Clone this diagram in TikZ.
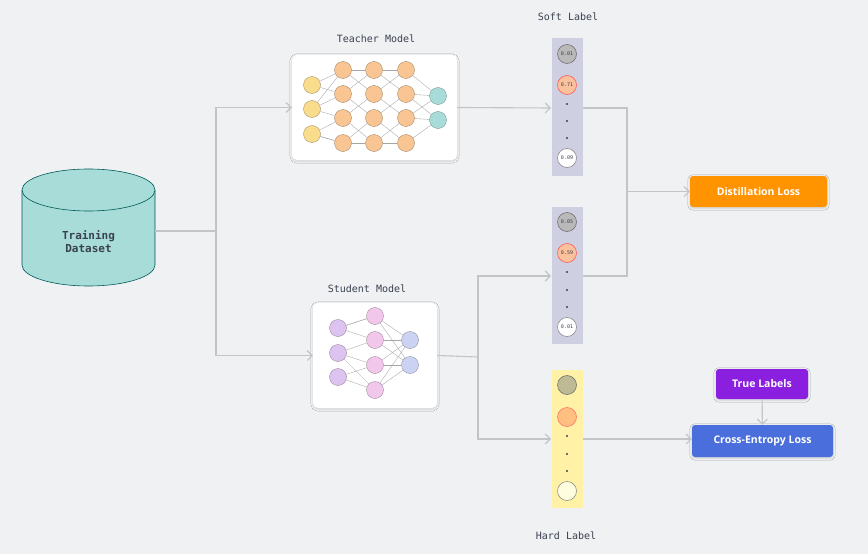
\documentclass[tikz,border=0pt]{standalone}
\usepackage{fontspec}
\setmainfont{Open Sans}
\newfontfamily\mono{DejaVu Sans Mono}
\usetikzlibrary{shapes.geometric,arrows.meta,shadows.blur}
\definecolor{bg}{HTML}{F0F1F3}
\definecolor{ln}{HTML}{C2C4C8}
\definecolor{txt}{HTML}{3A4150}
\tikzset{
 conn/.style={draw=ln,line width=1.1pt},
 arr/.style={conn,-{Straight Barb[length=5pt,width=10pt]}},
 card/.style={fill=white,rounded corners=5pt,blur shadow={shadow blur steps=6,shadow xshift=0pt,shadow yshift=-1pt,shadow opacity=15}},
 nn/.style={circle,minimum size=17pt,inner sep=0pt,draw=#1!60!black,line width=0.3pt,fill=#1},
 wire/.style={draw=gray!70,line width=0.35pt},
 val/.style={circle,minimum size=19pt,inner sep=0pt,line width=0.5pt,font=\mono\fontsize{5}{5}\selectfont,text=txt},
 dot/.style={circle,fill=txt,inner sep=0pt,minimum size=2.2pt},
 ttl/.style={font=\mono\fontsize{10}{12}\selectfont,text=txt},
 loss/.style={rounded corners=3pt,text=white,font=\bfseries\fontsize{10.5}{12}\selectfont,inner sep=0pt,blur shadow={shadow blur steps=5,shadow xshift=0pt,shadow yshift=-1pt,shadow opacity=15}}
}
\definecolor{cy}{HTML}{F9DC8C}\definecolor{co}{HTML}{F9C592}\definecolor{ct}{HTML}{A8DCD8}
\definecolor{cp}{HTML}{DCC3F0}\definecolor{cpk}{HTML}{F1C8EC}\definecolor{cb}{HTML}{CCD3F2}
\begin{document}
\begin{tikzpicture}[x=1pt,y=-1pt]
\fill[bg] (0,0) rectangle (868,554);
\useasboundingbox (0,0) rectangle (868,554);
% dataset cylinder
\fill[ct] (22,190) -- (22,265) arc[start angle=180,end angle=360,x radius=66.5,y radius=-21] -- (155,190) -- cycle;
\draw[teal!70!black,line width=0.6pt] (22,190) -- (22,265) arc[start angle=180,end angle=360,x radius=66.5,y radius=-21] -- (155,190);
\draw[teal!70!black,line width=0.6pt,fill=ct] (88.5,190) ellipse[x radius=66.5,y radius=21];
\node[ttl,align=center,font=\mono\bfseries\fontsize{11}{13}\selectfont] (ds) at (88.5,242) {Training\\Dataset};
\coordinate (dsr) at (155,231);
\coordinate (j1) at (216,231);
% cards
\node[card,minimum width=165pt,minimum height=105pt] (tb) at (374.5,107.5) {};
\node[ttl] (tl) at (376,39) {Teacher Model};
\node[card,minimum width=124pt,minimum height=105pt] (sb) at (375,355.5) {};
\node[ttl] (sl) at (367,289) {Student Model};
% teacher net
\foreach \i/\y in {1/85,2/109,3/134}{\node[nn=cy] (ti\i) at (312,\y) {};}
\foreach \c/\x in {1/343,2/374,3/406}{\foreach \i/\y in {1/70,2/94,3/118,4/143}{\node[nn=co] (th\c\i) at (\x,\y) {};}}
\foreach \i/\y in {1/96,2/120}{\node[nn=ct] (to\i) at (438,\y) {};}
\foreach \a/\b in {1/1,1/2,2/2,2/3,3/3,3/4,2/1,3/4}{\draw[wire] (ti\a) -- (th1\b);}
\foreach \a/\b in {1/2,2/1,2/3,3/2,3/4,4/3,1/1,4/4}{\draw[wire] (th1\a) -- (th2\b); \draw[wire] (th2\a) -- (th3\b);}
\foreach \a/\b in {1/1,2/1,3/2,4/2,2/2,3/1}{\draw[wire] (th3\a) -- (to\b);}
% student net
\foreach \i/\y in {1/328,2/353,3/377}{\node[nn=cp] (si\i) at (338,\y) {};}
\foreach \i/\y in {1/316,2/340,3/365,4/390}{\node[nn=cpk] (sh\i) at (375,\y) {};}
\foreach \i/\y in {1/340,2/365}{\node[nn=cb] (so\i) at (410,\y) {};}
\foreach \a/\b in {1/1,1/2,2/2,2/3,3/3,3/4,2/4,1/1}{\draw[wire] (si\a) -- (sh\b);}
\foreach \a/\b in {1/1,1/2,2/1,2/2,3/1,3/2,4/1,4/2}{\draw[wire] (sh\a) -- (so\b);}
% label columns
\fill[blue!25!gray!30] (552,38) rectangle (583,176);
\fill[blue!25!gray!30] (552,207) rectangle (583,344);
\fill[orange!30!yellow!35] (552,370) rectangle (583,508);
\node[ttl] (slab) at (568,17) {Soft Label};
\node[ttl] (hlab) at (566,536) {Hard Label};
\node[val,fill=gray!55,draw=gray!80!black] (a1) at (567,54) {0.01};
\node[val,fill=co!90!red!80,draw=red!70] (a2) at (567,85) {0.71};
\node[val,fill=white,draw=gray] (a3) at (567,158) {0.09};
\node[val,fill=gray!55,draw=gray!80!black] (b1) at (567,222) {0.05};
\node[val,fill=co!90!red!80,draw=red!70] (b2) at (567,253) {0.59};
\node[val,fill=white,draw=gray] (b3) at (567,327) {0.01};
\node[val,fill=olive!35!gray!60,draw=gray!80!black] (c1) at (567,385) {};
\node[val,fill=orange!50,draw=red!60] (c2) at (567,417) {};
\node[val,fill=yellow!12,draw=gray] (c3) at (567,491) {};
\foreach \y in {104,121,138,272,290,307,436,454,471}{\node[dot] at (567,\y) {};}
\coordinate (s1l) at (551,108); \coordinate (s1r) at (583,108);
\coordinate (s2l) at (551,276); \coordinate (s2r) at (583,276);
\coordinate (hl) at (551,439); \coordinate (hr) at (583,439);
% loss boxes
\node[loss,fill=orange!85!yellow,minimum width=137pt,minimum height=31pt] (dl) at (758.5,191.5) {Distillation Loss};
\node[loss,fill={rgb,255:red,74;green,111;blue,220},minimum width=141pt,minimum height=32pt] (ce) at (762.5,441) {Cross-Entropy Loss};
\node[loss,fill={rgb,255:red,138;green,31;blue,224},minimum width=92pt,minimum height=30pt] (tl2) at (762,384) {True Labels};
% connectors
\draw[conn] (dsr) -- (j1);
\draw[arr] (j1) |- (tb.west);
\draw[arr] (j1) |- (sb.west);
\draw[arr] (tb.east) -- (s1l);
\coordinate (j2) at (478,357);
\draw[conn] (sb.east) -- (j2);
\draw[arr] (j2) |- (s2l);
\draw[arr] (j2) |- (hl);
\coordinate (j3) at (627,191.5);
\draw[conn] (s1r) -| (j3);
\draw[conn] (s2r) -| (j3);
\draw[arr] (j3) -- (dl.west);
\draw[arr] (hr) -- (ce.west|-hr);
\draw[arr] (tl2) -- (ce);
\end{tikzpicture}
\end{document}
